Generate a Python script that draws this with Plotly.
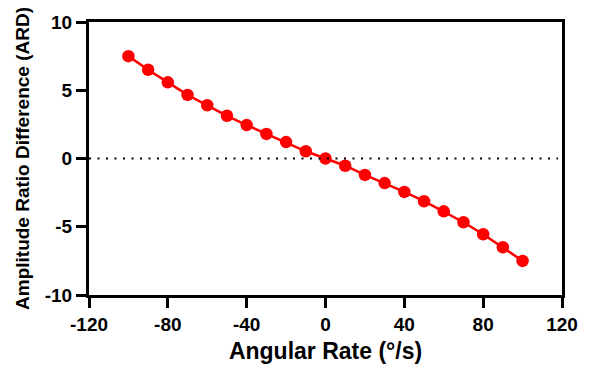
import plotly.graph_objects as go

# Angular rate (deg/s) and amplitude ratio difference
angular_rate = [-100, -90, -80, -70, -60, -50, -40, -30, -20, -10, 0,
                10, 20, 30, 40, 50, 60, 70, 80, 90, 100]
ard = [7.5, 6.5, 5.58, 4.66, 3.9, 3.13, 2.45, 1.8, 1.2, 0.53, 0.0,
       -0.53, -1.2, -1.8, -2.45, -3.13, -3.87, -4.67, -5.55, -6.5, -7.5]

x_ticks = [-120, -80, -40, 0, 40, 80, 120]
y_ticks = [-10, -5, 0, 5, 10]
x_ticklabels = ["-120", "-80", "-40", "0", "40", "80", "120"]
y_ticklabels = ["-10", "-5", "0", "5", "10"]

font_family = "Liberation Sans, Arial, sans-serif"

fig = go.Figure()

fig.add_trace(go.Scatter(
    x=angular_rate, y=ard,
    mode="lines+markers",
    line=dict(color="#ff0000", width=2.5),
    marker=dict(color="#ff0000", size=12.5),
    showlegend=False,
))

# dotted zero reference line
fig.add_shape(type="line", xref="x", yref="y",
              x0=-120, x1=118, y0=0, y1=0,
              line=dict(color="black", width=2, dash="2px,6.5px"))

axis_common = dict(
    showgrid=False, zeroline=False,
    showline=True, linecolor="black", linewidth=3,
    ticks="outside", ticklen=10, tickwidth=3, tickcolor="black",
    mirror=True,
    tickfont=dict(family=font_family, size=19, color="black", weight="bold"),
)

fig.update_xaxes(
    range=[-120, 120], tickvals=x_ticks,
    ticktext=[f"<b>{t}</b>" for t in x_ticklabels],
    title=dict(text="<b>Angular Rate (°/s)</b>",
               font=dict(family=font_family, size=23, color="black"),
               standoff=10),
    **axis_common,
)
fig.update_yaxes(
    range=[-10, 10], tickvals=y_ticks,
    ticktext=[f"<b>{t}</b>" for t in y_ticklabels],
    title=dict(text="<b>Amplitude Ratio Difference (ARD)</b>",
               font=dict(family=font_family, size=19, color="black"),
               standoff=11),
    **axis_common,
)

fig.update_layout(
    width=593, height=374,
    margin=dict(l=89, r=31, t=18, b=79),
    plot_bgcolor="white", paper_bgcolor="white",
)

fig.write_html("out.html")
